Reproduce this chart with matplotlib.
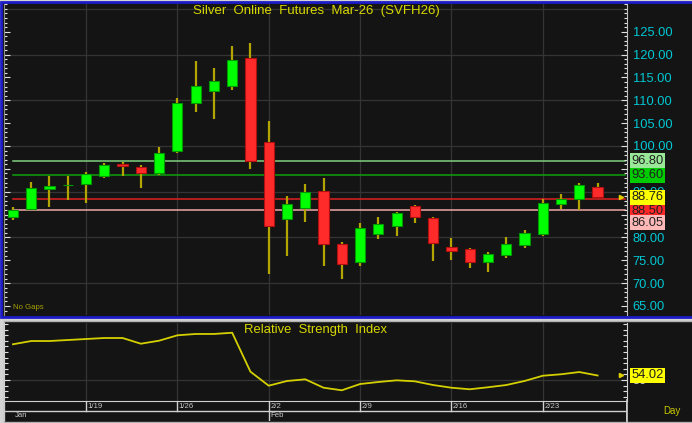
import matplotlib
matplotlib.use('Agg')
import matplotlib.pyplot as plt
from matplotlib.patches import Rectangle
from matplotlib.ticker import MultipleLocator, FixedLocator, FormatStrFormatter
import numpy as np

plt.rcParams['font.family'] = ['Liberation Sans', 'DejaVu Sans']

# daily bars, 1/13 .. 2/26
opens = [84.5, 86.2, 90.6, 91.45, 91.6, 93.5, 96.0, 95.3, 94.2, 98.8, 109.5,
         112.0, 113.2, 119.3, 100.9, 84.0, 86.4, 90.2, 78.6, 74.7, 80.7, 82.6,
         86.8, 84.2, 78.0, 77.4, 74.7, 76.2, 78.4, 80.8, 87.2, 88.5, 91.0]
closes = [85.9, 90.7, 91.2, 91.55, 93.8, 95.8, 95.6, 94.2, 98.5, 109.3, 113.1,
          114.2, 118.8, 96.8, 82.4, 87.4, 89.9, 78.6, 74.2, 82.0, 82.9, 85.4,
          84.5, 78.8, 77.0, 74.7, 76.4, 78.6, 81.0, 87.5, 88.5, 91.4, 88.76]
highs = [86.6, 92.2, 93.4, 93.4, 94.3, 96.2, 96.6, 95.8, 99.8, 110.6, 118.6,
         117.1, 121.8, 122.5, 105.5, 89.1, 91.6, 93.1, 78.9, 83.2, 84.4, 85.6,
         87.1, 84.4, 79.8, 77.6, 76.7, 80.0, 81.6, 88.4, 89.6, 92.0, 92.0]
lows = [83.8, 86.0, 86.7, 88.2, 87.5, 93.0, 93.5, 90.9, 93.7, 98.4, 107.4,
        105.8, 112.3, 95.0, 71.9, 75.9, 83.4, 73.8, 70.8, 73.8, 79.6, 80.4,
        83.2, 74.8, 75.1, 73.2, 72.5, 75.6, 77.6, 80.2, 86.2, 86.0, 88.7]
rsi = [81.9, 84.8, 84.8, 85.7, 86.6, 87.5, 87.5, 82.4, 85.1, 89.9, 91.1,
       91.1, 92.2, 57.4, 44.9, 49.1, 50.6, 43.1, 40.8, 46.4, 48.2, 49.7,
       48.8, 45.5, 43.1, 41.7, 43.5, 45.5, 49.1, 53.8, 55.1, 57.1, 54.02]

week_idx = [4, 9, 14, 19, 24, 29]
week_labels = ['1/19', '1/26', '2/2', '2/9', '2/16', '2/23']
month_idx = [0, 14]
month_labels = ['Jan', 'Feb']
price_ticks = [65, 70, 75, 80, 85, 90, 95, 100, 105, 110, 115, 120, 125]
rsi_ticks = [50]

# horizontal levels: value, line colour, label box colour
levels = [96.80, 93.60, 88.50, 86.05]
level_colors = ['#7ed07e', '#10a010', '#e02020', '#f0a8a8']
box_colors = ['#98e898', '#00cc00', '#ff2828', '#ffb8b8']
last_price = 88.76
rsi_last = 54.02

W, H = 692, 423
BG = '#141414'
fig = plt.figure(figsize=(W / 100, H / 100), dpi=100, facecolor='#d4d4d4')

def box(l, t, r, b):
    return [l / W, 1 - b / H, (r - l) / W, (b - t) / H]

# panel backgrounds
fig.patches.append(Rectangle((1.5 / W, 1 - 316.5 / H), 692 / W, 315 / H, transform=fig.transFigure,
                             facecolor=BG, edgecolor='#1c1cc8', lw=2, zorder=-10))
fig.patches.append(Rectangle((3.5 / W, 1 - 421.5 / H), 690 / W, 101 / H, transform=fig.transFigure,
                             facecolor=BG, edgecolor='#b0b0b0', lw=1, zorder=-10))

x = np.arange(len(opens))
xlim = (-0.49, 33.61)

# ---- price panel
ax = fig.add_axes(box(4, 4, 627, 315))
ax.set_facecolor(BG)
ax.set_xlim(*xlim)
ax.set_ylim(63.02, 131.07)
for v in week_idx:
    ax.axvline(v, color='#343434', lw=0.9, zorder=0)
for v in range(70, 131, 10):
    ax.axhline(v, color='#343434', lw=0.9, zorder=0)

o = np.array(opens); c = np.array(closes)
up = c >= o
ax.vlines(x, lows, highs, color='#b4a400', lw=1.6, zorder=2)
ax.bar(x[up], (c - o)[up], bottom=o[up], width=0.56, color='#00ff00',
       edgecolor='#009a00', lw=0.8, zorder=3)
ax.bar(x[~up], (o - c)[~up], bottom=c[~up], width=0.56, color='#ff2a2a',
       edgecolor='#b01010', lw=0.8, zorder=3)

for lv, lc in zip(levels, level_colors):
    ax.plot([0, 33.5], [lv, lv], color=lc, lw=1.1, zorder=1)

ax.yaxis.set_major_locator(FixedLocator(price_ticks))
ax.yaxis.set_minor_locator(MultipleLocator(1))
ax.yaxis.set_major_formatter(FormatStrFormatter('%.2f'))
ax.tick_params(axis='y', which='both', left=True, right=True, labelleft=False, labelright=True,
               direction='in', colors='#e0e0e0', labelcolor='#00c8d4', labelsize=9.3, pad=4)
ax.tick_params(axis='y', which='major', length=4, width=0.8)
ax.tick_params(axis='y', which='minor', length=2, width=0.8)
ax.tick_params(axis='x', bottom=False, labelbottom=False)
for s in ['top', 'bottom']:
    ax.spines[s].set_visible(False)
ax.spines['left'].set_color('#909090')
ax.spines['right'].set_color('#c0c0c0')

ytr = ax.get_yaxis_transform()
lab_kw = dict(xycoords=ytr, textcoords='offset points', ha='left', va='center',
              fontsize=9.3, color='#202020', annotation_clip=False, zorder=5)
for lv, bc, dy in zip(levels, box_colors, [0, 0, -8.7, -9.4]):
    ax.annotate('%.2f' % lv, xy=(1, lv), xytext=(3.2, dy),
                bbox=dict(boxstyle='square,pad=0.12', fc=bc, ec='none'), **lab_kw)
ax.annotate('%.2f' % last_price, xy=(1, last_price), xytext=(3.2, 0),
            bbox=dict(boxstyle='square,pad=0.12', fc='#ffff00', ec='none'), **lab_kw)
ax.plot([0.99], [last_price], marker='>', ms=3, color='#e0d000', transform=ytr, clip_on=False)

fig.text(316 / W, 1 - 11 / H, 'Silver  Online  Futures  Mar-26  (SVFH26)', color='#d8d800',
         fontsize=9.5, ha='center', va='center')
ax.text(0.014, 0.012, 'No Gaps', transform=ax.transAxes, color='#a8a000', fontsize=5.6,
        ha='left', va='bottom')

# ---- RSI panel
ax2 = fig.add_axes(box(4, 323, 627, 400.7))
ax2.set_facecolor(BG)
ax2.set_xlim(*xlim)
ax2.set_ylim(31.5, 100.9)
for v in week_idx:
    ax2.axvline(v, color='#343434', lw=0.9, zorder=0)
ax2.axhline(50, color='#343434', lw=0.9, zorder=0)
ax2.plot(x, rsi, color='#d4d000', lw=1.3)
ax2.yaxis.set_major_locator(FixedLocator(rsi_ticks))
ax2.yaxis.set_minor_locator(MultipleLocator(5))
ax2.yaxis.set_major_formatter(FormatStrFormatter('%d'))
ax2.tick_params(axis='y', which='both', left=True, right=True, labelleft=False, labelright=True,
                direction='in', colors='#e0e0e0', labelcolor='#d0d0d0', labelsize=9.3, pad=4)
ax2.tick_params(axis='y', which='major', length=4, width=0.8)
ax2.tick_params(axis='y', which='minor', length=3, width=0.8)
ax2.tick_params(axis='x', bottom=False, labelbottom=False)
ax2.spines['top'].set_visible(False)
for s in ['left', 'right', 'bottom']:
    ax2.spines[s].set_color('#d0d0d0')
ytr2 = ax2.get_yaxis_transform()
ax2.annotate('%.2f' % rsi_last, xy=(1, rsi_last), xytext=(3.2, 0),
             bbox=dict(boxstyle='square,pad=0.12', fc='#ffff00', ec='none'), **dict(lab_kw, xycoords=ytr2))
ax2.plot([0.99], [rsi_last], marker='>', ms=3, color='#e0d000', transform=ytr2, clip_on=False)
fig.text(315 / W, 1 - 330 / H, 'Relative  Strength  Index', color='#d8d800',
         fontsize=9.4, ha='center', va='center')

# ---- date strip
ax3 = fig.add_axes(box(4, 400.7, 627, 421))
ax3.set_facecolor(BG)
ax3.set_xlim(*xlim)
ax3.set_ylim(0, 2)
ax3.axis('off')
ln = '#d0d0d0'
ax3.axhline(1, color=ln, lw=1)
ax3.axvline(xlim[0], color=ln, lw=1.2)
ax3.axvline(xlim[1], color=ln, lw=1.2)
for v, t in zip(week_idx, week_labels):
    ax3.plot([v, v], [1, 2], color=ln, lw=1)
    ax3.text(v + 0.08, 1.45, t, color='#c8c8c8', fontsize=5.6, ha='left', va='center')
for v, t in zip(month_idx, month_labels):
    if v > 0:
        ax3.plot([v, v], [0, 1], color=ln, lw=1)
    ax3.text(v + 0.08, 0.5, t, color='#c8c8c8', fontsize=5.6, ha='left', va='center')
fig.text(672 / W, 1 - 411 / H, 'Day', color='#c8c800', fontsize=7, ha='center', va='center')
fig.add_artist(plt.Line2D([627 / W, 627 / W], [1 - 423 / H, 1 - 400 / H], color=ln, lw=1.2))

fig.savefig('out.png', dpi=100, facecolor=fig.get_facecolor())
